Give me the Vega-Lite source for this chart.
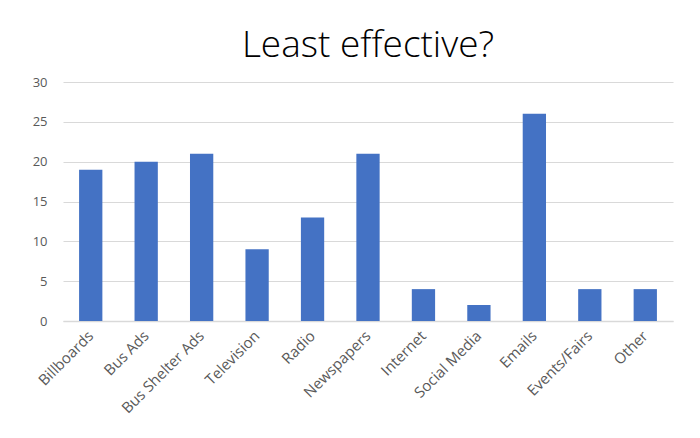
{
  "$schema": "https://vega.github.io/schema/vega-lite/v6.json",
  "autosize": "none",
  "width": 610,
  "height": 239,
  "padding": {"left": 63, "top": 82, "right": 27, "bottom": 117},
  "background": "white",
  "title": {
    "text": "Least effective?",
    "anchor": "middle",
    "frame": "group",
    "offset": 11,
    "font": "Open Sans",
    "fontWeight": 300,
    "fontSize": 37,
    "color": "#000000"
  },
  "data": {
    "values": [
      {"category": "Billboards", "count": 19},
      {"category": "Bus Ads", "count": 20},
      {"category": "Bus Shelter Ads", "count": 21},
      {"category": "Television", "count": 9},
      {"category": "Radio", "count": 13},
      {"category": "Newspapers", "count": 21},
      {"category": "Internet", "count": 4},
      {"category": "Social Media", "count": 2},
      {"category": "Emails", "count": 26},
      {"category": "Events/Fairs", "count": 4},
      {"category": "Other", "count": 4}
    ]
  },
  "mark": {"type": "bar", "color": "#4472C4"},
  "encoding": {
    "x": {
      "field": "category",
      "type": "nominal",
      "sort": null,
      "scale": {"paddingInner": 0.58, "paddingOuter": 0.29},
      "axis": {
        "title": null,
        "labelAngle": -45,
        "labelAlign": "right",
        "labelBaseline": "middle",
        "labelFont": "Open Sans",
        "labelFontSize": 15,
        "labelColor": "#595959",
        "labelPadding": 12,
        "ticks": false,
        "domainColor": "#d9d9d9",
        "domainWidth": 1.5
      }
    },
    "y": {
      "field": "count",
      "type": "quantitative",
      "scale": {"domain": [0, 30]},
      "axis": {
        "title": null,
        "values": [0, 5, 10, 15, 20, 25, 30],
        "labelFont": "Open Sans",
        "labelFontSize": 13,
        "labelColor": "#595959",
        "labelPadding": 16,
        "ticks": false,
        "domain": false,
        "gridColor": "#d9d9d9",
        "gridWidth": 1.2
      }
    }
  },
  "config": {"view": {"stroke": null}}
}
